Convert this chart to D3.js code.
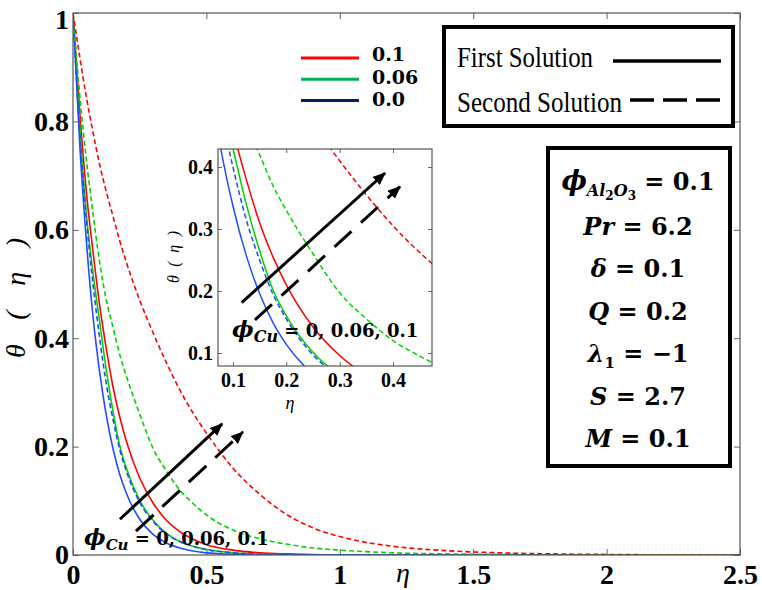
<!DOCTYPE html>
<html>
<head>
<meta charset="utf-8">
<script src="https://cdnjs.cloudflare.com/ajax/libs/d3/7.8.5/d3.min.js"></script>
<style>
  body { margin: 0; background: #fff; }
  svg { display: block; }
</style>
</head>
<body>
<div id="viz"></div>
<script>
// values (theta on a common eta grid)
var eta = [0, 0.025, 0.05, 0.075, 0.1, 0.125, 0.15, 0.175, 0.2, 0.25, 0.3, 0.35, 0.4, 0.45, 0.5,
           0.6, 0.7, 0.8, 0.9, 1.0, 1.2, 1.4, 1.6, 1.8, 2.0, 2.5];

// first solution
var firstCu01  = [1, 0.82, 0.67, 0.56, 0.46, 0.38, 0.31, 0.255, 0.21, 0.142, 0.096, 0.064, 0.043, 0.029, 0.019,
                  0.009, 0.004, 0.002, 0.001, 0, 0, 0, 0, 0, 0, 0];
var firstCu006 = [1, 0.79, 0.63, 0.52, 0.43, 0.34, 0.265, 0.202, 0.16, 0.101, 0.064, 0.040, 0.025, 0.016, 0.010,
                  0.004, 0.0015, 0.0005, 0, 0, 0, 0, 0, 0, 0, 0];
var firstCu0   = [1, 0.76, 0.58, 0.44, 0.337, 0.257, 0.196, 0.149, 0.114, 0.066, 0.038, 0.022, 0.013, 0.0075, 0.004,
                  0.0015, 0, 0, 0, 0, 0, 0, 0, 0, 0, 0];
// second solution
var secondCu01  = [1, 0.92, 0.845, 0.78, 0.72, 0.67, 0.625, 0.58, 0.54, 0.47, 0.41, 0.355, 0.305, 0.262, 0.225,
                   0.16, 0.112, 0.075, 0.05, 0.034, 0.016, 0.008, 0.004, 0.002, 0.001, 0];
var secondCu006 = [1, 0.85, 0.73, 0.63, 0.54, 0.47, 0.42, 0.37, 0.33, 0.26, 0.197, 0.155, 0.12, 0.095, 0.074,
                   0.046, 0.030, 0.020, 0.013, 0.009, 0.004, 0.002, 0.001, 0, 0, 0];
var secondCu0   = [1, 0.78, 0.62, 0.50, 0.40, 0.315, 0.25, 0.195, 0.155, 0.097, 0.062, 0.039, 0.025, 0.016, 0.010,
                   0.004, 0.0015, 0.0005, 0, 0, 0, 0, 0, 0, 0, 0];

var xTicks = [0, 0.5, 1, 1.5, 2, 2.5];
var yTicks = [0, 0.2, 0.4, 0.6, 0.8, 1];
var insetXTicks = [0.1, 0.2, 0.3, 0.4];
var insetYTicks = [0.1, 0.2, 0.3, 0.4];

var cuLabels = ["0.1", "0.06", "0.0"];
var paramSymbols = ["Pr", "δ", "Q", "λ", "S", "M"];
var paramSubs    = ["", "", "", "1", "", ""];
var paramValues  = ["6.2", "0.1", "0.2", "−1", "2.7", "0.1"];

var curveColors  = {"0.1": "#ff0000", "0.06": "#00d400", "0.0": "#1f4dff"};
var legendColors = {"0.1": "#ff0000", "0.06": "#00b050", "0.0": "#002060"};

var series = [
  {cu: "0.1",  dashed: false, values: firstCu01},
  {cu: "0.06", dashed: false, values: firstCu006},
  {cu: "0.0",  dashed: false, values: firstCu0},
  {cu: "0.0",  dashed: true,  values: secondCu0},
  {cu: "0.06", dashed: true,  values: secondCu006},
  {cu: "0.1",  dashed: true,  values: secondCu01}
];

var serif = "'Liberation Serif', 'Times New Roman', serif";
var math = "'DejaVu Serif', serif";
var fmt = d3.format("~g");

var width = 762, height = 590;
var svg = d3.select("#viz").append("svg")
  .attr("width", width)
  .attr("height", height);

svg.append("defs").append("marker")
  .attr("id", "head")
  .attr("markerUnits", "userSpaceOnUse")
  .attr("viewBox", "0 0 12 10")
  .attr("refX", 11).attr("refY", 5)
  .attr("markerWidth", 13).attr("markerHeight", 11)
  .attr("orient", "auto")
  .append("path").attr("d", "M0,0 L12,5 L0,10 Z").attr("fill", "#000");

// ---------- main plot ----------
var x = d3.scaleLinear().domain([0, 2.5]).range([73, 740]);
var y = d3.scaleLinear().domain([0, 1]).range([555, 13]);

svg.append("clipPath").attr("id", "clipMain")
  .append("rect").attr("x", 73).attr("y", 13).attr("width", 667).attr("height", 542);

function styleTicks(g, size) {
  g.select(".domain").remove();
  g.selectAll(".tick line").attr("stroke", "#666");
  g.selectAll("text")
    .attr("fill", "#000")
    .style("font-family", serif)
    .style("font-weight", "bold")
    .style("font-size", size + "px");
}

svg.append("g").attr("transform", "translate(0,555)")
  .call(d3.axisBottom(x).tickValues(xTicks).tickFormat(fmt).tickSize(-6).tickPadding(9))
  .call(styleTicks, 28);
svg.append("g").attr("transform", "translate(0,13)")
  .call(d3.axisTop(x).tickValues(xTicks).tickSize(-6).tickFormat(""))
  .call(styleTicks, 28);
svg.append("g").attr("transform", "translate(73,0)")
  .call(d3.axisLeft(y).tickValues(yTicks).tickFormat(fmt).tickSize(-6).tickPadding(4))
  .call(styleTicks, 28)
  .call(function(g) {
    // keep the top label inside the picture
    g.selectAll(".tick text").filter(function(d) { return d === 1; }).attr("dy", "0.55em");
  });
svg.append("g").attr("transform", "translate(740,0)")
  .call(d3.axisRight(y).tickValues(yTicks).tickSize(-6).tickFormat(""))
  .call(styleTicks, 28);

var line = d3.line()
  .x(function(d, i) { return x(eta[i]); })
  .y(function(d) { return y(d); })
  .curve(d3.curveMonotoneX);

svg.append("g").attr("clip-path", "url(#clipMain)")
  .selectAll("path")
  .data(series)
  .enter().append("path")
  .attr("d", function(d) { return line(d.values); })
  .attr("fill", "none")
  .attr("stroke", function(d) { return curveColors[d.cu]; })
  .attr("stroke-width", 1.6)
  .attr("stroke-dasharray", function(d) { return d.dashed ? "5,3" : null; });

svg.append("rect")
  .attr("x", 73).attr("y", 13).attr("width", 667).attr("height", 542)
  .attr("fill", "none").attr("stroke", "#555").attr("stroke-width", 1.2);

// axis titles
svg.append("text")
  .attr("transform", "translate(25,298) rotate(-90)")
  .attr("text-anchor", "middle")
  .attr("textLength", 120).attr("lengthAdjust", "spacing")
  .style("font-family", serif).style("font-style", "italic").style("font-size", "28px")
  .text("θ ( η )");
svg.append("text")
  .attr("x", 403).attr("y", 582)
  .attr("text-anchor", "middle")
  .style("font-family", serif).style("font-style", "italic").style("font-size", "28px")
  .text("η");

// arrows and phi_Cu note
function arrows(sx, sy, a, b, width, dash) {
  svg.append("line")
    .attr("x1", sx(a[0])).attr("y1", sy(a[1]))
    .attr("x2", sx(b[0])).attr("y2", sy(b[1]))
    .attr("stroke", "#000").attr("stroke-width", width)
    .attr("stroke-dasharray", dash)
    .attr("marker-end", "url(#head)");
}
arrows(x, y, [0.176, 0.066], [0.559, 0.242], 3, null);
arrows(x, y, [0.236, 0.044], [0.637, 0.227], 3, "24,12");

function phiNote(px, py, big, small, rest) {
  var t = svg.append("text").attr("x", px).attr("y", py)
    .style("font-family", math).style("font-weight", "bold");
  t.append("tspan").style("font-style", "italic").style("font-size", big + "px").text("ϕ");
  t.append("tspan").attr("dy", 5).style("font-style", "italic").style("font-size", small + "px").text("Cu");
  t.append("tspan").attr("dy", -5).style("font-size", rest + "px").text(" = 0, 0.06, 0.1");
}
phiNote(84, 545, 23, 15, 18);

// ---------- legend of phi_Cu colours ----------
var lg = svg.append("g");
cuLabels.forEach(function(c, i) {
  var ly = 58 + i * 21.3;
  lg.append("line").attr("x1", 301).attr("x2", 359).attr("y1", ly).attr("y2", ly)
    .attr("stroke", legendColors[c]).attr("stroke-width", 3);
  lg.append("text").attr("x", 372).attr("y", ly + 3 + i * 1.2)
    .style("font-family", math).style("font-weight", "bold").style("font-size", "19px")
    .text(c);
});

// ---------- solution legend ----------
svg.append("rect").attr("x", 444).attr("y", 27).attr("width", 289).attr("height", 99)
  .attr("fill", "#fff").attr("stroke", "#000").attr("stroke-width", 4);
svg.append("text").attr("x", 457).attr("y", 67)
  .attr("textLength", 136).attr("lengthAdjust", "spacingAndGlyphs")
  .style("font-family", serif).style("font-size", "30px").text("First Solution");
svg.append("text").attr("x", 457).attr("y", 112)
  .attr("textLength", 165).attr("lengthAdjust", "spacingAndGlyphs")
  .style("font-family", serif).style("font-size", "30px").text("Second Solution");
svg.append("line").attr("x1", 613).attr("x2", 721).attr("y1", 61).attr("y2", 61)
  .attr("stroke", "#000").attr("stroke-width", 3.5);
svg.append("line").attr("x1", 630).attr("x2", 721).attr("y1", 100).attr("y2", 100)
  .attr("stroke", "#000").attr("stroke-width", 3.5).attr("stroke-dasharray", "24,9");

// ---------- parameter box ----------
svg.append("rect").attr("x", 548).attr("y", 148).attr("width", 182).attr("height", 318)
  .attr("fill", "#fff").attr("stroke", "#000").attr("stroke-width", 4);
var px = 638;
var t0 = svg.append("text").attr("x", px).attr("y", 190).attr("text-anchor", "middle")
  .style("font-family", math).style("font-weight", "bold");
t0.append("tspan").style("font-style", "italic").style("font-size", "27px").text("ϕ");
t0.append("tspan").attr("dy", 6).style("font-style", "italic").style("font-size", "16px").text("Al");
t0.append("tspan").attr("dy", 4).style("font-size", "12px").text("2");
t0.append("tspan").attr("dy", -4).style("font-style", "italic").style("font-size", "16px").text("O");
t0.append("tspan").attr("dy", 4).style("font-size", "12px").text("3");
t0.append("tspan").attr("dy", -10).style("font-size", "24px").text(" = 0.1");

paramSymbols.forEach(function(s, i) {
  var t = svg.append("text").attr("x", px).attr("y", 235 + i * 42.4).attr("text-anchor", "middle")
    .style("font-family", math).style("font-weight", "bold").style("font-size", "24px");
  t.append("tspan").style("font-style", "italic").text(s);
  if (paramSubs[i]) {
    t.append("tspan").attr("dy", 6).style("font-size", "15px").text(paramSubs[i]);
    t.append("tspan").attr("dy", -6).text(" = " + paramValues[i]);
  } else {
    t.append("tspan").text(" = " + paramValues[i]);
  }
});

// ---------- inset ----------
var xi = d3.scaleLinear().domain([0.072, 0.473]).range([218, 432]);
var yi = d3.scaleLinear().domain([0.079, 0.429]).range([366, 149]);

svg.append("rect").attr("x", 218).attr("y", 149).attr("width", 214).attr("height", 217)
  .attr("fill", "#fff");
svg.append("clipPath").attr("id", "clipInset")
  .append("rect").attr("x", 218).attr("y", 149).attr("width", 214).attr("height", 217);

svg.append("g").attr("transform", "translate(0,366)")
  .call(d3.axisBottom(xi).tickValues(insetXTicks).tickFormat(fmt).tickSize(-4).tickPadding(7))
  .call(styleTicks, 20);
svg.append("g").attr("transform", "translate(0,149)")
  .call(d3.axisTop(xi).tickValues(insetXTicks).tickSize(-4).tickFormat(""))
  .call(styleTicks, 20);
svg.append("g").attr("transform", "translate(218,0)")
  .call(d3.axisLeft(yi).tickValues(insetYTicks).tickFormat(fmt).tickSize(-4).tickPadding(5))
  .call(styleTicks, 20);
svg.append("g").attr("transform", "translate(432,0)")
  .call(d3.axisRight(yi).tickValues(insetYTicks).tickSize(-4).tickFormat(""))
  .call(styleTicks, 20);

var lineIn = d3.line()
  .x(function(d, i) { return xi(eta[i]); })
  .y(function(d) { return yi(d); })
  .curve(d3.curveMonotoneX);

svg.append("g").attr("clip-path", "url(#clipInset)")
  .selectAll("path")
  .data(series)
  .enter().append("path")
  .attr("d", function(d) { return lineIn(d.values); })
  .attr("fill", "none")
  .attr("stroke", function(d) { return curveColors[d.cu]; })
  .attr("stroke-width", 1.5)
  .attr("stroke-dasharray", function(d) { return d.dashed ? "5,3" : null; });

svg.append("rect").attr("x", 218).attr("y", 149).attr("width", 214).attr("height", 217)
  .attr("fill", "none").attr("stroke", "#555").attr("stroke-width", 1.2);

svg.append("text")
  .attr("transform", "translate(179,257) rotate(-90)")
  .attr("text-anchor", "middle")
  .attr("textLength", 52).attr("lengthAdjust", "spacing")
  .style("font-family", serif).style("font-style", "italic").style("font-size", "16px")
  .text("θ ( η )");
svg.append("text")
  .attr("x", 290).attr("y", 409).attr("text-anchor", "middle")
  .style("font-family", serif).style("font-style", "italic").style("font-size", "18px")
  .text("η");

arrows(xi, yi, [0.1163, 0.1811], [0.385, 0.3903], 3, null);
arrows(xi, yi, [0.1413, 0.1532], [0.4131, 0.3682], 3, "23,13");
phiNote(232, 337, 23, 16, 18);
</script>
</body>
</html>
